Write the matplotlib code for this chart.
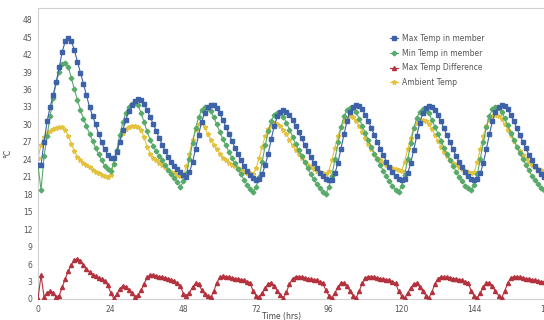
import matplotlib
matplotlib.use("Agg")
import matplotlib.pyplot as plt
import numpy as np

# hourly readings, one list per day (last day has the closing hour 168)
max_temp = (
    [23.0, 23.0, 27.0, 30.5, 33.0, 35.0, 37.3, 39.8, 42.5, 44.3, 44.9, 44.3,
     42.8, 40.8, 38.9, 37.0, 35.0, 33.0, 31.5, 30.0, 28.4, 26.9, 25.7, 24.8]
    + [24.3, 24.2, 25.2, 27.0, 29.0, 30.8, 32.3, 33.4, 34.1, 34.4, 34.2, 33.5,
       32.5, 31.3, 30.1, 28.9, 27.7, 26.5, 25.4, 24.4, 23.6, 22.9, 22.3, 21.8]
    + [21.3, 21.0, 21.8, 23.5, 25.8, 28.2, 30.4, 32.0, 33.0, 33.4, 33.3, 32.8,
       31.9, 30.8, 29.6, 28.4, 27.2, 26.0, 24.9, 23.8, 22.8, 22.0, 21.3, 20.8]
    + [20.5, 20.6, 21.5, 23.0, 25.0, 27.5, 29.8, 31.4, 32.2, 32.4, 32.2, 31.6,
       30.8, 29.8, 28.7, 27.6, 26.5, 25.4, 24.4, 23.4, 22.5, 21.7, 21.1, 20.7]
    + [20.4, 20.5, 21.6, 23.4, 25.8, 28.3, 30.6, 32.2, 33.0, 33.3, 33.2, 32.6,
       31.7, 30.6, 29.4, 28.2, 27.0, 25.8, 24.7, 23.6, 22.6, 21.8, 21.1, 20.7]
    + [20.5, 20.6, 21.6, 23.3, 25.6, 28.0, 30.3, 31.9, 32.8, 33.1, 33.0, 32.5,
       31.6, 30.5, 29.3, 28.1, 26.9, 25.7, 24.6, 23.6, 22.6, 21.8, 21.1, 20.7]
    + [20.5, 20.6, 21.6, 23.4, 25.8, 28.3, 30.6, 32.2, 33.0, 33.3, 33.2, 32.6,
       31.7, 30.6, 29.4, 28.2, 27.0, 25.9, 24.8, 23.8, 22.9, 22.1, 21.4, 20.9, 20.6]
)

min_temp = (
    [23.0, 18.7, 24.5, 28.0, 31.5, 34.5, 37.2, 39.0, 40.4, 40.6, 39.8, 38.0,
     36.0, 34.2, 32.5, 31.0, 29.7, 28.4, 27.2, 26.0, 24.9, 23.8, 22.9, 22.3]
    + [22.0, 23.2, 25.6, 28.2, 30.4, 32.0, 33.0, 33.5, 33.7, 33.3, 32.0, 30.4,
       28.8, 27.4, 26.3, 25.4, 24.6, 23.8, 23.0, 22.2, 21.5, 20.8, 20.1, 19.3]
    + [20.2, 21.5, 24.0, 26.8, 29.3, 31.2, 32.4, 33.0, 32.9, 32.3, 31.2, 30.0,
       28.7, 27.5, 26.4, 25.3, 24.3, 23.3, 22.3, 21.4, 20.5, 19.6, 18.9, 18.3]
    + [19.3, 21.0, 23.6, 26.4, 28.8, 30.6, 31.6, 32.0, 31.9, 31.3, 30.3, 29.1,
       27.9, 26.7, 25.6, 24.5, 23.5, 22.5, 21.5, 20.6, 19.8, 19.0, 18.4, 18.1]
    + [19.2, 21.2, 24.0, 26.9, 29.5, 31.4, 32.5, 32.9, 32.8, 32.1, 31.0, 29.8,
       28.5, 27.3, 26.1, 25.0, 24.0, 23.0, 22.0, 21.1, 20.2, 19.4, 18.8, 18.4]
    + [19.4, 21.3, 24.0, 26.8, 29.3, 31.1, 32.2, 32.6, 32.5, 31.9, 30.8, 29.6,
       28.4, 27.2, 26.0, 24.9, 23.9, 22.9, 21.9, 21.0, 20.2, 19.5, 19.0, 18.7]
    + [19.6, 21.4, 24.1, 27.0, 29.6, 31.5, 32.6, 33.0, 32.9, 32.2, 31.1, 29.9,
       28.6, 27.4, 26.2, 25.1, 24.1, 23.1, 22.1, 21.2, 20.4, 19.7, 19.1, 18.7, 19.5]
)

temp_diff = (
    [0.0, 4.1, 0.4, 1.1, 1.3, 1.1, 0.3, 0.6, 2.0, 3.5, 4.8, 5.9,
     6.7, 6.9, 6.6, 5.8, 5.2, 4.6, 4.2, 3.9, 3.6, 3.4, 3.1, 2.4]
    + [1.1, 0.1, 0.8, 1.8, 2.2, 2.1, 1.5, 1.0, 0.3, 0.7, 1.5, 2.6,
       3.7, 4.1, 4.1, 4.0, 3.8, 3.7, 3.6, 3.5, 3.3, 3.1, 2.7, 2.2]
    + [0.9, 0.6, 1.1, 2.0, 2.7, 2.5, 1.6, 0.8, 0.5, 0.3, 1.3, 2.8,
       3.7, 3.9, 3.8, 3.7, 3.6, 3.5, 3.4, 3.3, 3.2, 3.0, 2.7, 1.4]
    + [0.6, 0.3, 1.0, 1.9, 2.6, 2.8, 2.2, 1.4, 0.7, 0.2, 1.2, 2.6,
       3.5, 3.8, 3.8, 3.7, 3.6, 3.5, 3.4, 3.3, 3.2, 3.0, 2.7, 1.5]
    + [0.6, 0.2, 1.1, 2.0, 2.7, 2.8, 2.2, 1.3, 0.6, 0.2, 1.3, 2.7,
       3.6, 3.8, 3.8, 3.7, 3.6, 3.5, 3.4, 3.3, 3.2, 3.0, 2.7, 1.4]
    + [0.5, 0.2, 1.0, 1.9, 2.6, 2.7, 2.1, 1.3, 0.6, 0.2, 1.2, 2.6,
       3.5, 3.8, 3.7, 3.7, 3.6, 3.5, 3.4, 3.3, 3.2, 3.0, 2.7, 1.4]
    + [0.5, 0.2, 1.1, 2.0, 2.7, 2.8, 2.2, 1.3, 0.6, 0.2, 1.3, 2.7,
       3.6, 3.8, 3.8, 3.7, 3.6, 3.5, 3.4, 3.3, 3.2, 3.1, 3.0, 2.9, 2.8]
)

ambient = (
    [24.2, 26.5, 27.8, 28.5, 28.9, 29.2, 29.4, 29.6, 29.5, 29.0, 28.0, 26.6,
     25.4, 24.4, 23.8, 23.4, 23.0, 22.6, 22.2, 21.9, 21.6, 21.3, 21.1, 20.9]
    + [21.3, 23.2, 25.3, 27.2, 28.6, 29.2, 29.5, 29.7, 29.7, 29.5, 29.0, 27.8,
       26.2, 25.0, 24.3, 23.8, 23.4, 23.0, 22.6, 22.2, 21.9, 21.6, 21.3, 21.1]
    + [21.1, 22.8, 25.0, 27.3, 29.0, 30.1, 30.3, 29.5, 28.3, 27.4, 26.5, 25.7,
       25.0, 24.3, 23.8, 23.4, 23.1, 22.8, 22.5, 22.2, 21.9, 21.7, 21.6, 21.5]
    + [22.5, 24.3, 26.2, 28.0, 29.2, 29.9, 30.2, 30.1, 29.7, 29.1, 28.3, 27.3,
       26.4, 25.6, 24.9, 24.2, 23.6, 23.1, 22.7, 22.3, 22.0, 21.8, 21.6, 21.5]
    + [22.0, 23.8, 26.0, 28.0, 29.6, 30.6, 31.1, 31.4, 31.2, 30.6, 29.8, 28.7,
       27.7, 26.7, 25.8, 25.0, 24.3, 23.8, 23.3, 23.0, 22.7, 22.5, 22.3, 22.1]
    + [22.0, 23.6, 25.7, 27.7, 29.3, 30.3, 30.7, 30.8, 30.6, 30.0, 29.2, 28.2,
       27.2, 26.2, 25.3, 24.5, 23.9, 23.4, 23.0, 22.6, 22.3, 22.0, 21.8, 21.6]
    + [21.8, 23.6, 25.8, 28.0, 29.7, 30.8, 31.4, 31.7, 31.5, 30.9, 30.1, 29.1,
       28.1, 27.1, 26.2, 25.4, 24.7, 24.1, 23.6, 23.1, 22.7, 22.4, 22.1, 21.9, 21.7]
)

hours = np.arange(len(max_temp))
x_ticks = [0, 24, 48, 72, 96, 120, 144, 168]
y_ticks = list(range(0, 49, 3))

c_blue = "#3e62a8"
c_green = "#57aa6a"
c_red = "#b3323d"
c_yellow = "#e2c23f"


def plotting():
    fig = plt.figure(figsize=(5.44, 3.2), dpi=100)
    ax = fig.add_axes([38 / 544, 21 / 320, 509 / 544, 291 / 320])

    ax.plot(hours, ambient, c=c_yellow, lw=0.8, marker="*", ms=3.4,
            mec=c_yellow, label="Ambient Temp", zorder=2)
    ax.plot(hours, min_temp, c=c_green, lw=0.8, marker="D", ms=2.4,
            label="Min Temp in member", zorder=3)
    ax.plot(hours, max_temp, c=c_blue, lw=0.8, marker="s", ms=2.7,
            label="Max Temp in member", zorder=4)
    ax.plot(hours, temp_diff, c=c_red, lw=0.8, marker="^", ms=2.9,
            label="Max Temp Difference", zorder=3)

    ax.set_xlim(0, 168)
    ax.set_ylim(0, 50)
    ax.set_xticks(x_ticks)
    ax.set_yticks(y_ticks)
    ax.tick_params(length=0, labelsize=5.5, labelcolor="#555555", pad=4)
    for s in ax.spines.values():
        s.set_color("#d0d0d0")
        s.set_linewidth(0.8)

    ax.set_xlabel("Time (hrs)", fontsize=5.5, color="#444444")
    ax.xaxis.set_label_coords(0.478, -0.045)
    ax.set_ylabel("°C", fontsize=5.5, color="#444444")
    ax.yaxis.set_label_coords(-0.05, 0.5)

    h, l = ax.get_legend_handles_labels()
    order = [2, 1, 3, 0]
    leg = ax.legend([h[i] for i in order], [l[i] for i in order],
                    frameon=False, fontsize=5.5, loc="upper left",
                    bbox_to_anchor=(383 / 544, 1 - 27 / 320),
                    bbox_transform=fig.transFigure, handlelength=1.0,
                    handletextpad=0.6, labelspacing=0.75)
    for t in leg.get_texts():
        t.set_color("#555555")

    fig.savefig("out.png", dpi=100)


if __name__ == "__main__":
    plotting()
